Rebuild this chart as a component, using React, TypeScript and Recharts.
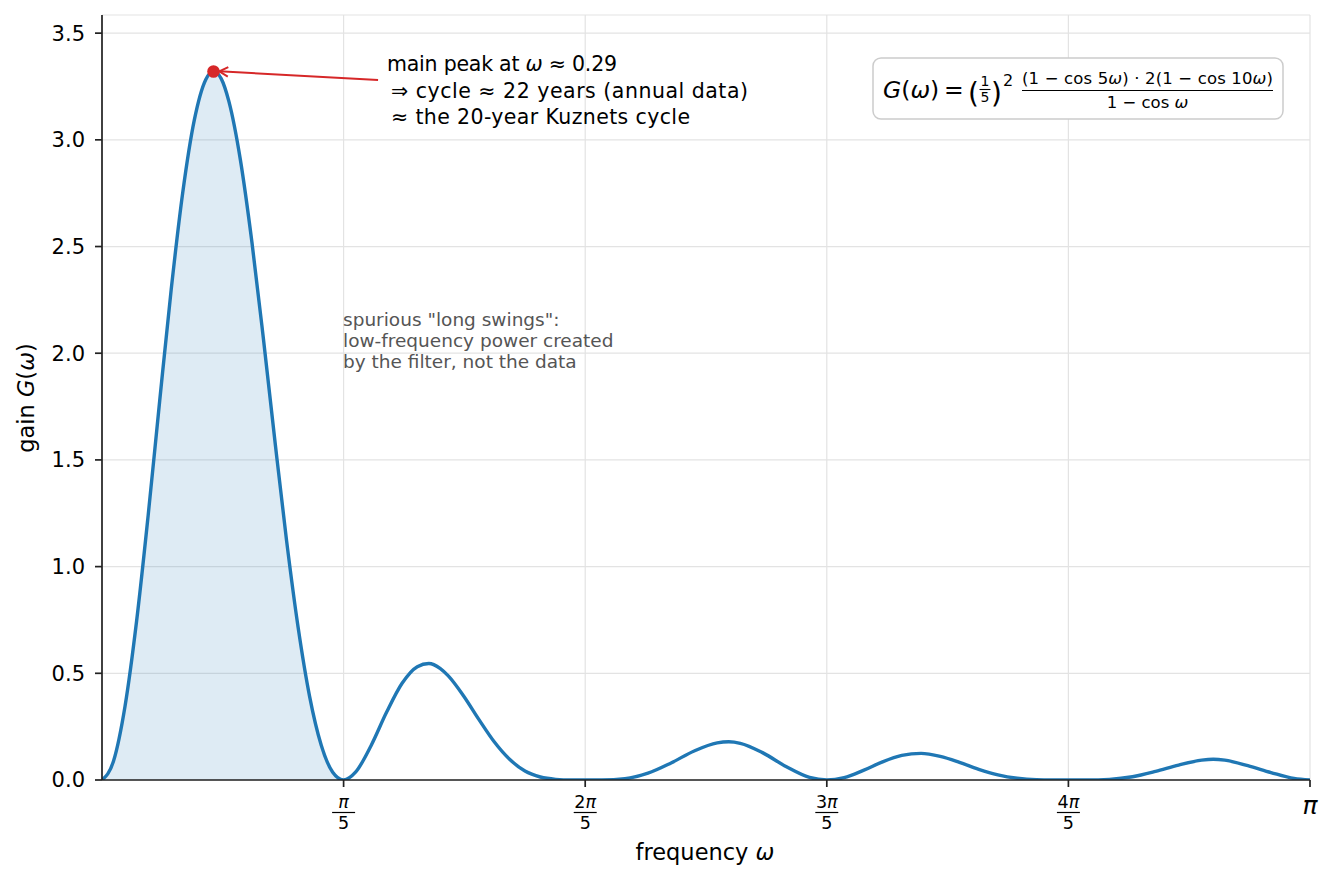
import React from 'react';
import {
  ComposedChart,
  Line,
  Area,
  XAxis,
  YAxis,
  CartesianGrid,
  ReferenceDot,
  ReferenceLine,
  Customized,
} from 'recharts';

// frequency ω (radians) sampled along the curve
const omega = [
  0, 0.03, 0.06, 0.09, 0.12, 0.15, 0.18, 0.21, 0.24, 0.27, 0.29, 0.31, 0.33, 0.36, 0.39, 0.42,
  0.45, 0.48, 0.51, 0.54, 0.57, 0.6, 0.628, 0.66, 0.7, 0.74, 0.78, 0.82, 0.85, 0.88, 0.9, 0.94,
  0.98, 1.02, 1.06, 1.1, 1.14, 1.18, 1.22, 1.257, 1.3, 1.36, 1.42, 1.48, 1.54, 1.6, 1.63, 1.66,
  1.72, 1.78, 1.84, 1.885, 1.93, 1.98, 2.03, 2.08, 2.13, 2.18, 2.23, 2.28, 2.33, 2.38, 2.43,
  2.47, 2.513, 2.56, 2.62, 2.68, 2.74, 2.8, 2.86, 2.89, 2.92, 2.98, 3.04, 3.1, 3.1416,
];

// gain G(ω)
const gain = [
  0, 0.089, 0.347, 0.745, 1.239, 1.776, 2.299, 2.753, 3.092, 3.283, 3.321, 3.287, 3.18, 2.905,
  2.519, 2.064, 1.584, 1.122, 0.716, 0.391, 0.164, 0.036, 0, 0.038, 0.162, 0.317, 0.452, 0.531,
  0.546, 0.522, 0.489, 0.395, 0.284, 0.179, 0.097, 0.042, 0.014, 0.003, 0, 0, 0.0002, 0.006,
  0.032, 0.08, 0.136, 0.174, 0.179, 0.172, 0.126, 0.062, 0.012, 0, 0.011, 0.045, 0.085, 0.115,
  0.125, 0.111, 0.083, 0.05, 0.024, 0.008, 0.001, 0, 0, 0.0001, 0.003, 0.015, 0.04, 0.07, 0.093,
  0.097, 0.093, 0.067, 0.035, 0.007, 0,
];

const xTickValues = [Math.PI / 5, (2 * Math.PI) / 5, (3 * Math.PI) / 5, (4 * Math.PI) / 5, Math.PI];
const xTickNumerators = ['π', '2π', '3π', '4π', 'π'];
const yTickValues = [0, 0.5, 1, 1.5, 2, 2.5, 3, 3.5];
const yMax = 3.585;
const mainLobeEnd = Math.PI / 5;

const peak = { omega: 0.29, gain: 3.32 };
const arrowTail = { omega: 0.718, gain: 3.28 };
const arrowHead = { omega: 0.305, gain: 3.321 };

const annotationLines = [
  'main peak at ',
  '⇒ cycle ≈ 22 years (annual data)',
  '≈ the 20-year Kuznets cycle',
];
const noteLines = ['spurious "long swings":', 'low-frequency power created', 'by the filter, not the data'];

const rows = omega.map((w, i) => ({
  omega: w,
  gain: gain[i],
  main: w <= mainLobeEnd + 1e-3 ? gain[i] : null,
}));

const FONT = 'DejaVu Sans';
const BLUE = '#1f77b4';
const RED = '#d62728';
const AXIS = '#222';
const INK = '#000';

const XTick = (props: any) => {
  const { x, y, index } = props;
  const num = xTickNumerators[index];
  if (index === xTickValues.length - 1) {
    return (
      <text x={x} y={y + 25} textAnchor="middle" fontFamily={FONT} fontSize={25} fontStyle="italic" fill={INK}>
        π
      </text>
    );
  }
  return (
    <g>
      <text x={x} y={y + 19} textAnchor="middle" fontFamily={FONT} fontSize={17.5} fill={INK}>
        {num.length > 1 ? num[0] : ''}
        <tspan fontStyle="italic">π</tspan>
      </text>
      <line x1={x - 11.5} x2={x + 11.5} y1={y + 23.5} y2={y + 23.5} stroke={INK} strokeWidth={1.2} />
      <text x={x} y={y + 40} textAnchor="middle" fontFamily={FONT} fontSize={17.5} fill={INK}>
        5
      </text>
    </g>
  );
};

const ArrowShape = (props: any) => {
  const { x1, y1, x2, y2 } = props;
  const ang = Math.atan2(y2 - y1, x2 - x1);
  const L = 10;
  const a = 0.5;
  const p1x = x2 - L * Math.cos(ang - a);
  const p1y = y2 - L * Math.sin(ang - a);
  const p2x = x2 - L * Math.cos(ang + a);
  const p2y = y2 - L * Math.sin(ang + a);
  return (
    <g>
      <line x1={x1} y1={y1} x2={x2} y2={y2} stroke={RED} strokeWidth={2} />
      <polyline
        points={`${p1x},${p1y} ${x2},${y2} ${p2x},${p2y}`}
        fill="none"
        stroke={RED}
        strokeWidth={2}
      />
    </g>
  );
};

const Overlay = () => (
  <g fontFamily={FONT}>
    {/* peak annotation */}
    <text x={387} y={71} fontSize={20.5} fill={INK} textLength={230} lengthAdjust="spacing">
      {annotationLines[0]}
      <tspan fontStyle="italic">ω</tspan>
      <tspan> ≈ 0.29</tspan>
    </text>
    <text x={391} y={97.5} fontSize={20.5} fill={INK} textLength={357} lengthAdjust="spacing">
      {annotationLines[1]}
    </text>
    <text x={391} y={124} fontSize={20.5} fill={INK} textLength={299} lengthAdjust="spacing">
      {annotationLines[2]}
    </text>

    {/* spurious note */}
    {noteLines.map((t, i) => (
      <text key={i} x={343} y={326 + i * 21} fontSize={18.5} fill="#555">
        {t}
      </text>
    ))}

    {/* formula box */}
    <rect x={873} y={58} width={410} height={61} rx={8} ry={8} fill="#fff" stroke="#cccccc" strokeWidth={1.5} />
    <text x={883} y={98} fontSize={23.5} fill={INK}>
      <tspan fontStyle="italic">G</tspan>
      <tspan>(</tspan>
      <tspan fontStyle="italic">ω</tspan>
      <tspan>)</tspan>
    </text>
    <text x={944} y={98} fontSize={23.5} fill={INK}>=</text>
    <text x={968} y={103} fontSize={28} fill={INK}>(</text>
    <text x={985} y={86} fontSize={14} fill={INK} textAnchor="middle">1</text>
    <line x1={979.5} x2={990.5} y1={89.5} y2={89.5} stroke={INK} strokeWidth={1.1} />
    <text x={985} y={102} fontSize={14} fill={INK} textAnchor="middle">5</text>
    <text x={991} y={103} fontSize={28} fill={INK}>)</text>
    <text x={1003} y={86} fontSize={16} fill={INK}>2</text>
    <text x={1022} y={84} fontSize={16.5} fill={INK} textLength={251} lengthAdjust="spacing">
      <tspan>(1 − cos 5</tspan>
      <tspan fontStyle="italic">ω</tspan>
      <tspan>) · 2(1 − cos 10</tspan>
      <tspan fontStyle="italic">ω</tspan>
      <tspan>)</tspan>
    </text>
    <line x1={1022} x2={1273} y1={90.5} y2={90.5} stroke={INK} strokeWidth={1.1} />
    <text x={1147.5} y={108} fontSize={16.5} fill={INK} textAnchor="middle">
      <tspan>1 − cos </tspan>
      <tspan fontStyle="italic">ω</tspan>
    </text>

    {/* axis titles */}
    <text x={705} y={860} fontSize={22.5} fill={INK} textAnchor="middle">
      frequency <tspan fontStyle="italic">ω</tspan>
    </text>
    <text
      x={0}
      y={0}
      fontSize={22.5}
      fill={INK}
      textAnchor="middle"
      transform="translate(34 398) rotate(-90)"
    >
      gain <tspan fontStyle="italic">G</tspan>(<tspan fontStyle="italic">ω</tspan>)
    </text>
  </g>
);

export default function App() {
  return (
    <div style={{ position: 'absolute', left: 0, top: 0, width: 1333, height: 883, background: '#fff' }}>
      <ComposedChart
        width={1333}
        height={883}
        data={rows}
        margin={{ top: 15, right: 23, left: 0, bottom: 0 }}
        style={{ fontFamily: FONT }}
      >
        <CartesianGrid stroke="#e3e3e3" strokeWidth={1.2} />
        <XAxis
          type="number"
          dataKey="omega"
          domain={[0, Math.PI]}
          ticks={xTickValues}
          interval={0}
          allowDataOverflow
          height={103}
          tickSize={7}
          tickMargin={2}
          tick={<XTick />}
          axisLine={{ stroke: AXIS, strokeWidth: 1.7 }}
          tickLine={{ stroke: AXIS, strokeWidth: 1.7 }}
        />
        <YAxis
          type="number"
          domain={[0, yMax]}
          ticks={yTickValues}
          interval={0}
          allowDataOverflow
          width={102}
          tickSize={7}
          tickMargin={10}
          tickFormatter={(v: number) => v.toFixed(1)}
          tick={{ fontSize: 21, fill: INK, fontFamily: FONT }}
          axisLine={{ stroke: AXIS, strokeWidth: 1.7 }}
          tickLine={{ stroke: AXIS, strokeWidth: 1.7 }}
        />
        <Area
          type="monotone"
          dataKey="main"
          stroke="none"
          fill={BLUE}
          fillOpacity={0.15}
          baseValue={0}
          connectNulls={false}
          isAnimationActive={false}
          dot={false}
          activeDot={false}
        />
        <Line
          type="monotone"
          dataKey="gain"
          stroke={BLUE}
          strokeWidth={3.4}
          dot={false}
          activeDot={false}
          isAnimationActive={false}
        />
        <ReferenceLine
          segment={[
            { x: arrowTail.omega, y: arrowTail.gain },
            { x: arrowHead.omega, y: arrowHead.gain },
          ]}
          shape={<ArrowShape />}
        />
        <ReferenceDot x={peak.omega} y={peak.gain} r={6.3} fill={RED} stroke="none" />
        <Customized component={<Overlay />} />
      </ComposedChart>
    </div>
  );
}
